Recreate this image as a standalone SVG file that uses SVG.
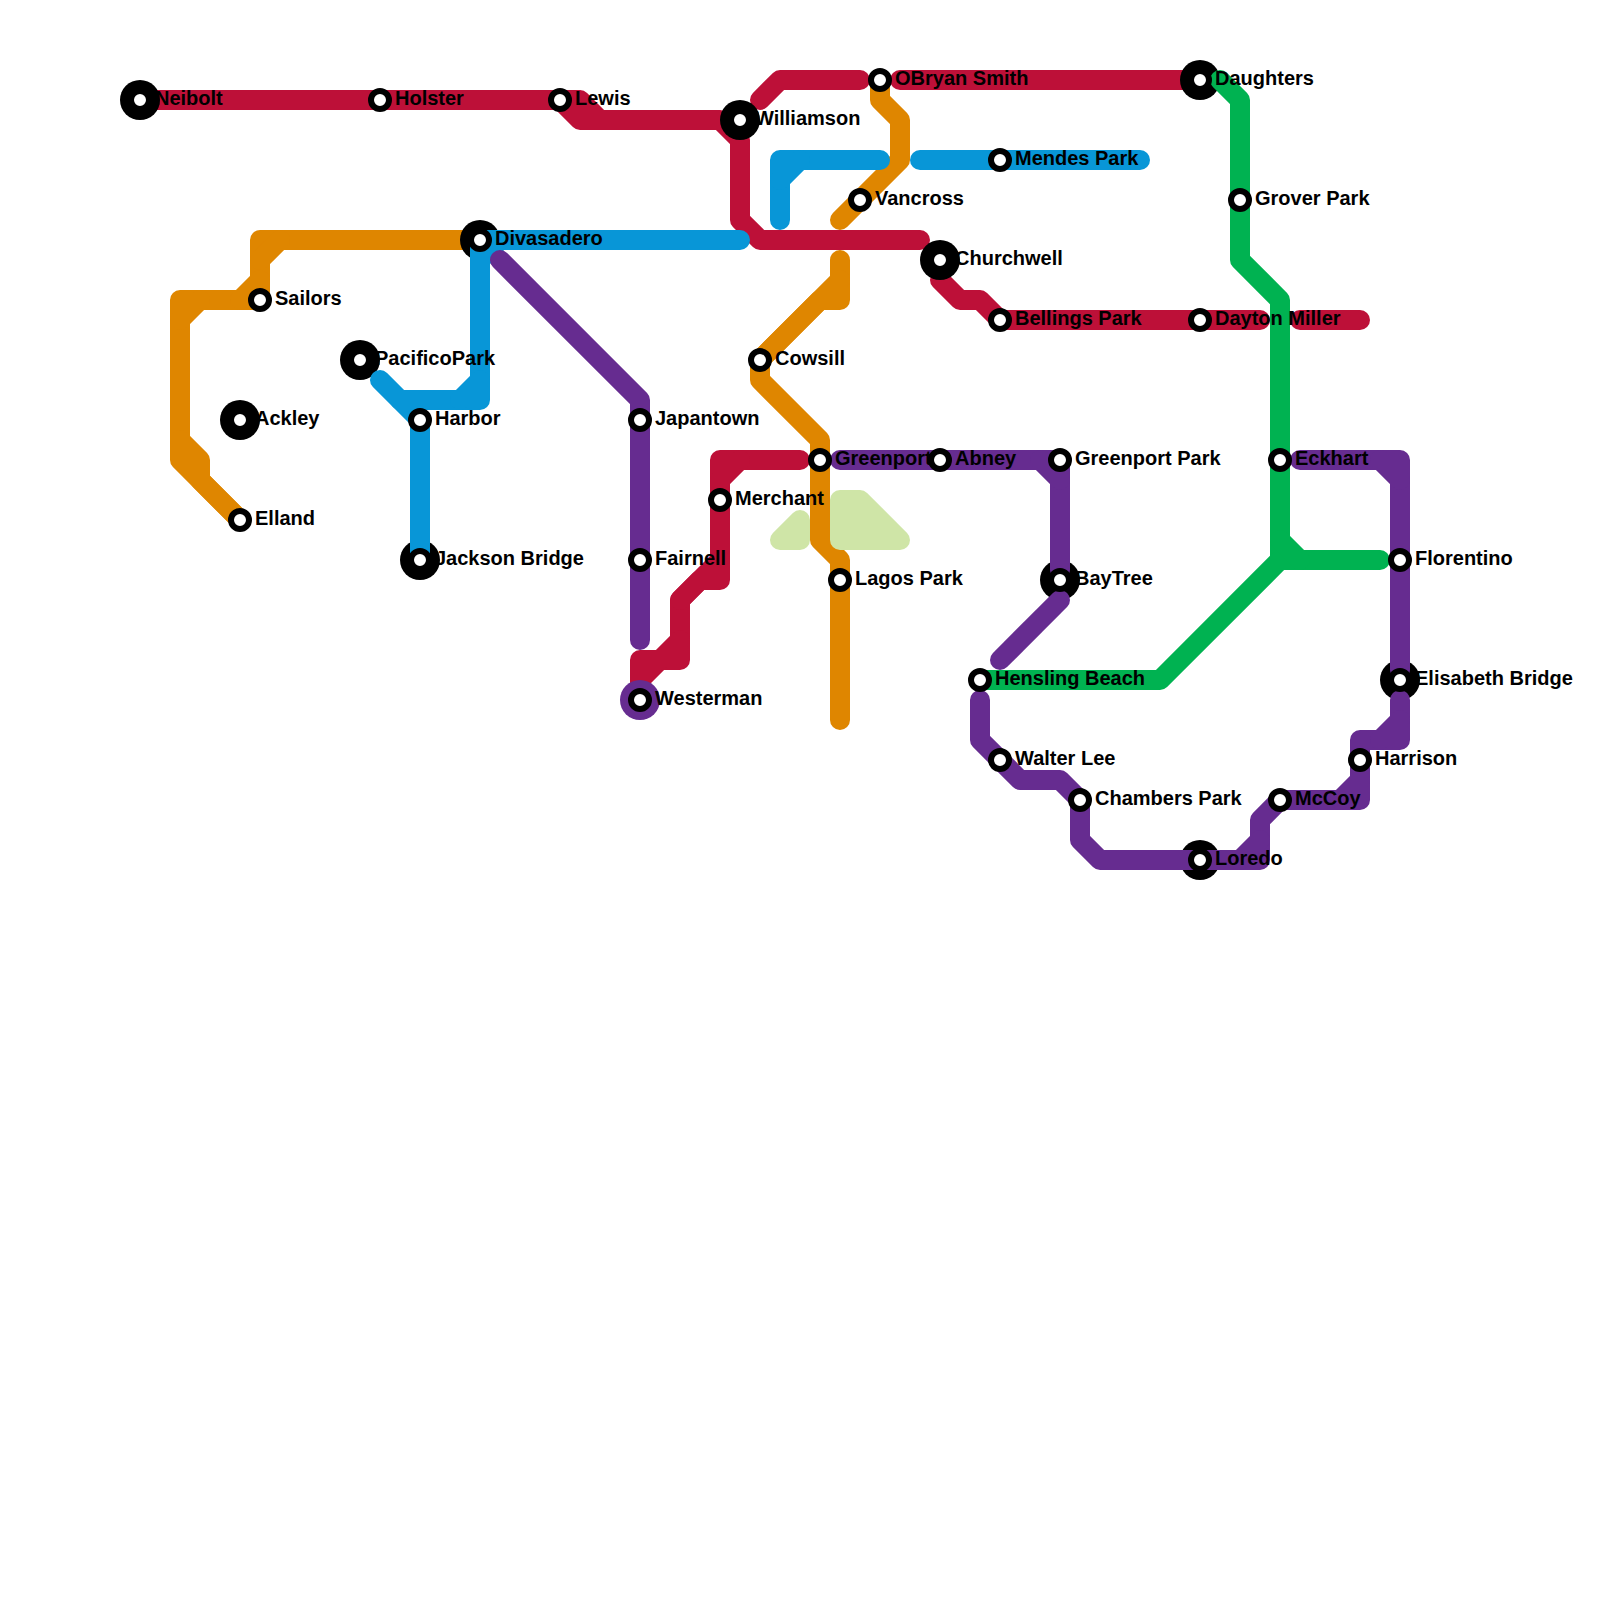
<svg xmlns="http://www.w3.org/2000/svg" width="1600" height="1600" viewBox="0 0 1600 1600">
<style>
.l{fill:none;stroke-width:20;stroke-linecap:round;stroke-linejoin:round}
.red{stroke:#bd1038}.org{stroke:#df8600}.blu{stroke:#0896d7}.pur{stroke:#662c90}.grn{stroke:#00b251}
.pk{fill:#cfe5a7;stroke:#cfe5a7;stroke-width:20;stroke-linejoin:round}
.halo{fill:#000}
.ring{fill:#fff;stroke:#000;stroke-width:6}
text{font-family:"Liberation Sans",Arial,sans-serif;font-weight:700;font-size:20px;fill:#000}
</style>
<rect width="1600" height="1600" fill="#fff"/>
<g id="connectors">
<g id="line-red" class="l red">
<path d="M140 100H580L600 120"/>
<path d="M560 100L580 120H720L740 140V220L760 240H920"/>
<path d="M760 100L780 80H860"/>
<path d="M900 80H1200"/>
<path d="M940 280L960 300H980L1000 320H1260"/>
<path d="M1300 320H1360"/>
<path d="M800 460H720V580H700L680 600V660H660L640 680"/>
<path d="M720 480L740 460"/>
<path d="M720 560L680 600"/>
<path d="M640 700V660H660L680 640"/>
</g>
<g id="line-orange" class="l org">
<path d="M470 240H260V300"/>
<path d="M260 260L280 240"/>
<path d="M260 300H180V460L240 520"/>
<path d="M240 300L260 280"/>
<path d="M180 320L200 300"/>
<path d="M180 440L200 460V480L240 520"/>
<path d="M880 80V100L900 120V160L840 220"/>
<path d="M840 260V300H820L760 360"/>
<path d="M840 280L760 360V380L820 440V540L840 560V720"/>
</g>
<g id="park-shapes">
<path class="pk" d="M840 500H860L900 540H840Z"/>
<path class="pk" d="M780 540L800 520V540Z"/>
</g>
<g id="interchange-halos">
<circle class="halo" cx="140" cy="100" r="20"/>
<circle class="halo" cx="740" cy="120" r="20"/>
<circle class="halo" cx="1200" cy="80" r="20"/>
<circle class="halo" cx="480" cy="240" r="20"/>
<circle class="halo" cx="940" cy="260" r="20"/>
<circle class="halo" cx="360" cy="360" r="20"/>
<circle class="halo" cx="240" cy="420" r="20"/>
<circle class="halo" cx="420" cy="560" r="20"/>
<circle class="halo" cx="1060" cy="580" r="20"/>
<circle class="halo" cx="1400" cy="680" r="20"/>
<circle class="halo" cx="1200" cy="860" r="20"/>
</g>
<g id="line-blue" class="l blu">
<path d="M480 240H740"/>
<path d="M480 260L500 240"/>
<path d="M480 240V400H400"/>
<path d="M460 400L480 380"/>
<path d="M380 380L420 420V555"/>
<path d="M880 160H780V220"/>
<path d="M780 180L800 160"/>
<path d="M920 160H1140"/>
</g>
<g id="line-purple" class="l pur">
<path d="M500 260L640 400V640"/>
<path d="M840 460H1060V570"/>
<path d="M1040 460L1060 480"/>
<path d="M1060 600L1000 660"/>
<path d="M980 700V740L1020 780H1060L1080 800V840L1100 860H1260V820L1280 800H1360V740H1400V700"/>
<path d="M1240 860L1260 840"/>
<path d="M1340 800L1360 780"/>
<path d="M1380 740L1400 720"/>
<path d="M1300 460H1400V670"/>
<path d="M1380 460L1400 480"/>
</g>
<g id="line-green" class="l grn">
<path d="M1220 80L1240 100V260L1280 300V560"/>
<path d="M980 680H1160L1280 560H1380"/>
<path d="M1280 540L1300 560"/>
</g>
</g>
<g id="n-neibolt"><circle class="ring" cx="140" cy="100" r="9"/><text x="155" y="105">Neibolt</text></g>
<g id="n-holster"><circle class="ring" cx="380" cy="100" r="9"/><text x="395" y="105">Holster</text></g>
<g id="n-lewis"><circle class="ring" cx="560" cy="100" r="9"/><text x="575" y="105">Lewis</text></g>
<g id="n-williamson"><circle class="ring" cx="740" cy="120" r="9"/><text x="755" y="125">Williamson</text></g>
<g id="n-obryan-smith"><circle class="ring" cx="880" cy="80" r="9"/><text x="895" y="85">OBryan Smith</text></g>
<g id="n-daughters"><circle class="ring" cx="1200" cy="80" r="9"/><text x="1215" y="85">Daughters</text></g>
<g id="n-mendes-park"><circle class="ring" cx="1000" cy="160" r="9"/><text x="1015" y="165">Mendes Park</text></g>
<g id="n-vancross"><circle class="ring" cx="860" cy="200" r="9"/><text x="875" y="205">Vancross</text></g>
<g id="n-grover-park"><circle class="ring" cx="1240" cy="200" r="9"/><text x="1255" y="205">Grover Park</text></g>
<g id="n-divasadero"><circle class="ring" cx="480" cy="240" r="9"/><text x="495" y="245">Divasadero</text></g>
<g id="n-churchwell"><circle class="ring" cx="940" cy="260" r="9"/><text x="955" y="265">Churchwell</text></g>
<g id="n-sailors"><circle class="ring" cx="260" cy="300" r="9"/><text x="275" y="305">Sailors</text></g>
<g id="n-bellings-park"><circle class="ring" cx="1000" cy="320" r="9"/><text x="1015" y="325">Bellings Park</text></g>
<g id="n-dayton-miller"><circle class="ring" cx="1200" cy="320" r="9"/><text x="1215" y="325">Dayton Miller</text></g>
<g id="n-pacificopark"><circle class="ring" cx="360" cy="360" r="9"/><text x="375" y="365">PacificoPark</text></g>
<g id="n-cowsill"><circle class="ring" cx="760" cy="360" r="9"/><text x="775" y="365">Cowsill</text></g>
<g id="n-ackley"><circle class="ring" cx="240" cy="420" r="9"/><text x="255" y="425">Ackley</text></g>
<g id="n-harbor"><circle class="ring" cx="420" cy="420" r="9"/><text x="435" y="425">Harbor</text></g>
<g id="n-japantown"><circle class="ring" cx="640" cy="420" r="9"/><text x="655" y="425">Japantown</text></g>
<g id="n-greenport"><circle class="ring" cx="820" cy="460" r="9"/><text x="835" y="465">Greenport</text></g>
<g id="n-abney"><circle class="ring" cx="940" cy="460" r="9"/><text x="955" y="465">Abney</text></g>
<g id="n-greenport-park"><circle class="ring" cx="1060" cy="460" r="9"/><text x="1075" y="465">Greenport Park</text></g>
<g id="n-eckhart"><circle class="ring" cx="1280" cy="460" r="9"/><text x="1295" y="465">Eckhart</text></g>
<g id="n-merchant"><circle class="ring" cx="720" cy="500" r="9"/><text x="735" y="505">Merchant</text></g>
<g id="n-elland"><circle class="ring" cx="240" cy="520" r="9"/><text x="255" y="525">Elland</text></g>
<g id="n-jackson-bridge"><circle class="ring" cx="420" cy="560" r="9"/><text x="435" y="565">Jackson Bridge</text></g>
<g id="n-fairnell"><circle class="ring" cx="640" cy="560" r="9"/><text x="655" y="565">Fairnell</text></g>
<g id="n-florentino"><circle class="ring" cx="1400" cy="560" r="9"/><text x="1415" y="565">Florentino</text></g>
<g id="n-lagos-park"><circle class="ring" cx="840" cy="580" r="9"/><text x="855" y="585">Lagos Park</text></g>
<g id="n-baytree"><circle class="ring" cx="1060" cy="580" r="9"/><text x="1075" y="585">BayTree</text></g>
<g id="n-hensling-beach"><circle class="ring" cx="980" cy="680" r="9"/><text x="995" y="685">Hensling Beach</text></g>
<g id="n-elisabeth-bridge"><circle class="ring" cx="1400" cy="680" r="9"/><text x="1415" y="685">Elisabeth Bridge</text></g>
<g id="n-westerman"><circle cx="640" cy="700" r="20" fill="#662c90"/><circle class="ring" cx="640" cy="700" r="9"/><text x="655" y="705">Westerman</text></g>
<g id="n-walter-lee"><circle class="ring" cx="1000" cy="760" r="9"/><text x="1015" y="765">Walter Lee</text></g>
<g id="n-harrison"><circle class="ring" cx="1360" cy="760" r="9"/><text x="1375" y="765">Harrison</text></g>
<g id="n-chambers-park"><circle class="ring" cx="1080" cy="800" r="9"/><text x="1095" y="805">Chambers Park</text></g>
<g id="n-mccoy"><circle class="ring" cx="1280" cy="800" r="9"/><text x="1295" y="805">McCoy</text></g>
<g id="n-loredo"><circle class="ring" cx="1200" cy="860" r="9"/><text x="1215" y="865">Loredo</text></g>
</svg>
